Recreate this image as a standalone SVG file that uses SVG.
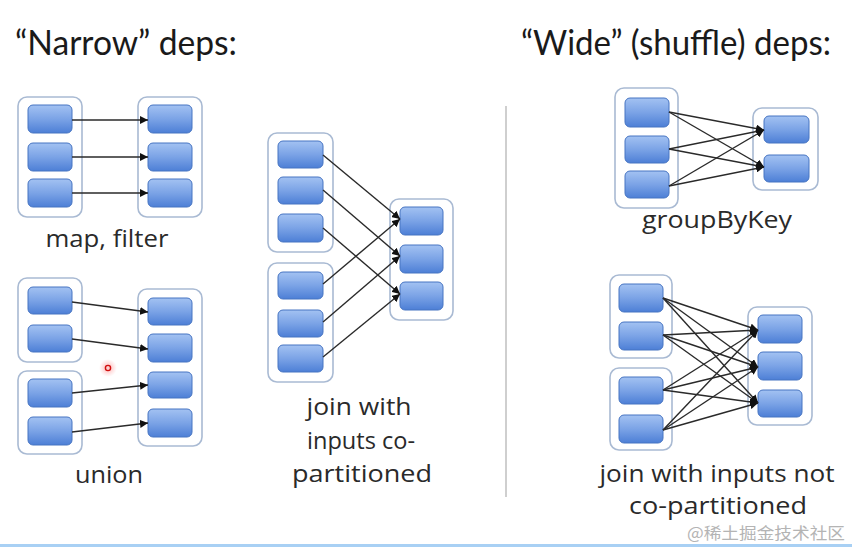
<svg xmlns="http://www.w3.org/2000/svg" width="852" height="547" viewBox="0 0 852 547">
<defs>
<linearGradient id="bg" x1="0" y1="0" x2="0" y2="1">
<stop offset="0" stop-color="#a3c2f2"/>
<stop offset="0.5" stop-color="#7ba3e6"/>
<stop offset="1" stop-color="#4d7fd6"/>
</linearGradient>
<marker id="ah" viewBox="0 0 10 10" refX="10" refY="5" markerWidth="8" markerHeight="8" markerUnits="userSpaceOnUse" orient="auto">
<path d="M0,0 L10,5 L0,10 z" fill="#111"/>
</marker>
<radialGradient id="glow">
<stop offset="0" stop-color="#ff6060" stop-opacity="0.5"/>
<stop offset="1" stop-color="#ff8080" stop-opacity="0"/>
</radialGradient>
</defs>
<style>
.c{fill:#fff;stroke:#a9bad3;stroke-width:1.6}
.b{fill:url(#bg);stroke:#4674c2;stroke-width:1}
.e line{stroke:#2a2a2a;stroke-width:1.4;marker-end:url(#ah)}
.t{font-family:"Open Sans","Liberation Sans",sans-serif;fill:#2a2a2a;text-anchor:middle}
.lbl{font-size:24px}
.hd{font-family:Lato,"Open Sans",sans-serif;font-size:34px;fill:#1a1a1a}
</style>
<rect width="852" height="547" fill="#fff"/>

<text class="t hd" x="126" y="55" textLength="222" lengthAdjust="spacingAndGlyphs">“Narrow” deps:</text>
<text class="t hd" x="676" y="55" textLength="310" lengthAdjust="spacingAndGlyphs">“Wide” (shuffle) deps:</text>
<line x1="506" y1="106" x2="506" y2="497" stroke="#cfcfcf" stroke-width="2"/>

<!-- map, filter -->
<g id="map-src">
<rect class="c" x="18" y="97" width="64" height="120" rx="9"/>
<rect class="b" x="28" y="105" width="44" height="28" rx="5"/>
<rect class="b" x="28" y="143" width="44" height="28" rx="5"/>
<rect class="b" x="28" y="179" width="44" height="28" rx="5"/>
</g>
<g id="map-dst">
<rect class="c" x="138" y="97" width="64" height="120" rx="9"/>
<rect class="b" x="148" y="105" width="44" height="28" rx="5"/>
<rect class="b" x="148" y="143" width="44" height="28" rx="5"/>
<rect class="b" x="148" y="179" width="44" height="28" rx="5"/>
</g>
<text class="t lbl" x="107" y="247" textLength="123" lengthAdjust="spacingAndGlyphs">map, filter</text>

<!-- union -->
<g id="union-src1">
<rect class="c" x="18" y="278" width="64" height="84" rx="9"/>
<rect class="b" x="28" y="287" width="44" height="27" rx="5"/>
<rect class="b" x="28" y="325" width="44" height="27" rx="5"/>
</g>
<g id="union-src2">
<rect class="c" x="18" y="371" width="64" height="83" rx="9"/>
<rect class="b" x="28" y="379" width="44" height="28" rx="5"/>
<rect class="b" x="28" y="417" width="44" height="28" rx="5"/>
</g>
<g id="union-dst">
<rect class="c" x="138" y="289" width="64" height="157" rx="9"/>
<rect class="b" x="148" y="298" width="44" height="27" rx="5"/>
<rect class="b" x="148" y="334" width="44" height="28" rx="5"/>
<rect class="b" x="148" y="372" width="44" height="26" rx="5"/>
<rect class="b" x="148" y="409" width="44" height="28" rx="5"/>
</g>
<text class="t lbl" x="109" y="483" textLength="68" lengthAdjust="spacingAndGlyphs">union</text>

<!-- join co-partitioned -->
<g id="join-src1">
<rect class="c" x="268" y="133" width="65" height="119" rx="9"/>
<rect class="b" x="278" y="141" width="45" height="27" rx="5"/>
<rect class="b" x="278" y="177" width="45" height="27" rx="5"/>
<rect class="b" x="278" y="214" width="45" height="28" rx="5"/>
</g>
<g id="join-src2">
<rect class="c" x="268" y="263" width="65" height="119" rx="9"/>
<rect class="b" x="278" y="272" width="45" height="27" rx="5"/>
<rect class="b" x="278" y="310" width="45" height="27" rx="5"/>
<rect class="b" x="278" y="345" width="45" height="27" rx="5"/>
</g>
<g id="join-dst">
<rect class="c" x="390" y="199" width="63" height="121" rx="9"/>
<rect class="b" x="400" y="207" width="43" height="28" rx="5"/>
<rect class="b" x="400" y="245" width="43" height="28" rx="5"/>
<rect class="b" x="400" y="282" width="43" height="28" rx="5"/>
</g>
<text class="t lbl" x="359" y="415" textLength="105" lengthAdjust="spacingAndGlyphs">join with</text>
<text class="t lbl" x="361" y="449" textLength="108" lengthAdjust="spacingAndGlyphs">inputs co-</text>
<text class="t lbl" x="362" y="482" textLength="140" lengthAdjust="spacingAndGlyphs">partitioned</text>

<!-- groupByKey -->
<g id="gbk-src">
<rect class="c" x="615" y="88" width="63" height="120" rx="9"/>
<rect class="b" x="625" y="98" width="44" height="29" rx="5"/>
<rect class="b" x="625" y="136" width="44" height="27" rx="5"/>
<rect class="b" x="625" y="171" width="44" height="27" rx="5"/>
</g>
<g id="gbk-dst">
<rect class="c" x="753" y="108" width="65" height="82" rx="9"/>
<rect class="b" x="764" y="116" width="45" height="27" rx="5"/>
<rect class="b" x="764" y="155" width="45" height="27" rx="5"/>
</g>
<text class="t lbl" x="717" y="228" textLength="150" lengthAdjust="spacingAndGlyphs">groupByKey</text>

<!-- join not co-partitioned -->
<g id="wjoin-src1">
<rect class="c" x="610" y="275" width="62" height="83" rx="9"/>
<rect class="b" x="619" y="284" width="44" height="28" rx="5"/>
<rect class="b" x="619" y="322" width="44" height="28" rx="5"/>
</g>
<g id="wjoin-src2">
<rect class="c" x="610" y="368" width="62" height="82" rx="9"/>
<rect class="b" x="619" y="377" width="44" height="27" rx="5"/>
<rect class="b" x="619" y="415" width="44" height="28" rx="5"/>
</g>
<g id="wjoin-dst">
<rect class="c" x="748" y="307" width="64" height="118" rx="9"/>
<rect class="b" x="758" y="315" width="44" height="28" rx="5"/>
<rect class="b" x="758" y="352" width="44" height="28" rx="5"/>
<rect class="b" x="758" y="390" width="44" height="27" rx="5"/>
</g>
<text class="t lbl" x="717" y="482" textLength="235" lengthAdjust="spacingAndGlyphs">join with inputs not</text>
<text class="t lbl" x="718" y="514" textLength="178" lengthAdjust="spacingAndGlyphs">co-partitioned</text>

<g id="connectors" class="e">
<line x1="72" y1="120" x2="148" y2="120"/>
<line x1="72" y1="157" x2="148" y2="157"/>
<line x1="72" y1="193" x2="148" y2="193"/>

<line x1="72" y1="302" x2="148" y2="312"/>
<line x1="72" y1="339" x2="148" y2="349"/>
<line x1="72" y1="393" x2="148" y2="385"/>
<line x1="72" y1="432" x2="148" y2="423"/>

<line x1="323" y1="155" x2="400" y2="219"/>
<line x1="323" y1="190" x2="400" y2="256"/>
<line x1="323" y1="228" x2="400" y2="294"/>
<line x1="323" y1="284" x2="400" y2="219"/>
<line x1="323" y1="322" x2="400" y2="256"/>
<line x1="323" y1="357" x2="400" y2="294"/>

<line x1="669" y1="112" x2="764" y2="130"/>
<line x1="669" y1="112" x2="764" y2="167"/>
<line x1="669" y1="149" x2="764" y2="130"/>
<line x1="669" y1="149" x2="764" y2="167"/>
<line x1="669" y1="186" x2="764" y2="130"/>
<line x1="669" y1="186" x2="764" y2="167"/>

<line x1="663" y1="298" x2="758" y2="330"/>
<line x1="663" y1="298" x2="758" y2="367"/>
<line x1="663" y1="298" x2="758" y2="403"/>
<line x1="663" y1="335" x2="758" y2="330"/>
<line x1="663" y1="335" x2="758" y2="367"/>
<line x1="663" y1="335" x2="758" y2="403"/>
<line x1="663" y1="390" x2="758" y2="330"/>
<line x1="663" y1="390" x2="758" y2="367"/>
<line x1="663" y1="390" x2="758" y2="403"/>
<line x1="663" y1="430" x2="758" y2="330"/>
<line x1="663" y1="430" x2="758" y2="367"/>
<line x1="663" y1="430" x2="758" y2="403"/>
</g>

<circle cx="108" cy="368" r="9" fill="url(#glow)"/>
<circle cx="108" cy="368" r="2.6" fill="#ffd0d0" stroke="#d01010" stroke-width="1.4"/>

<text x="845" y="539" text-anchor="end" font-family="'Noto Sans CJK SC',sans-serif" font-size="16" fill="#b4b4b4" textLength="158" lengthAdjust="spacingAndGlyphs">@稀土掘金技术社区</text>
<rect x="0" y="544" width="852" height="3" fill="#a8d0f4"/>
</svg>
